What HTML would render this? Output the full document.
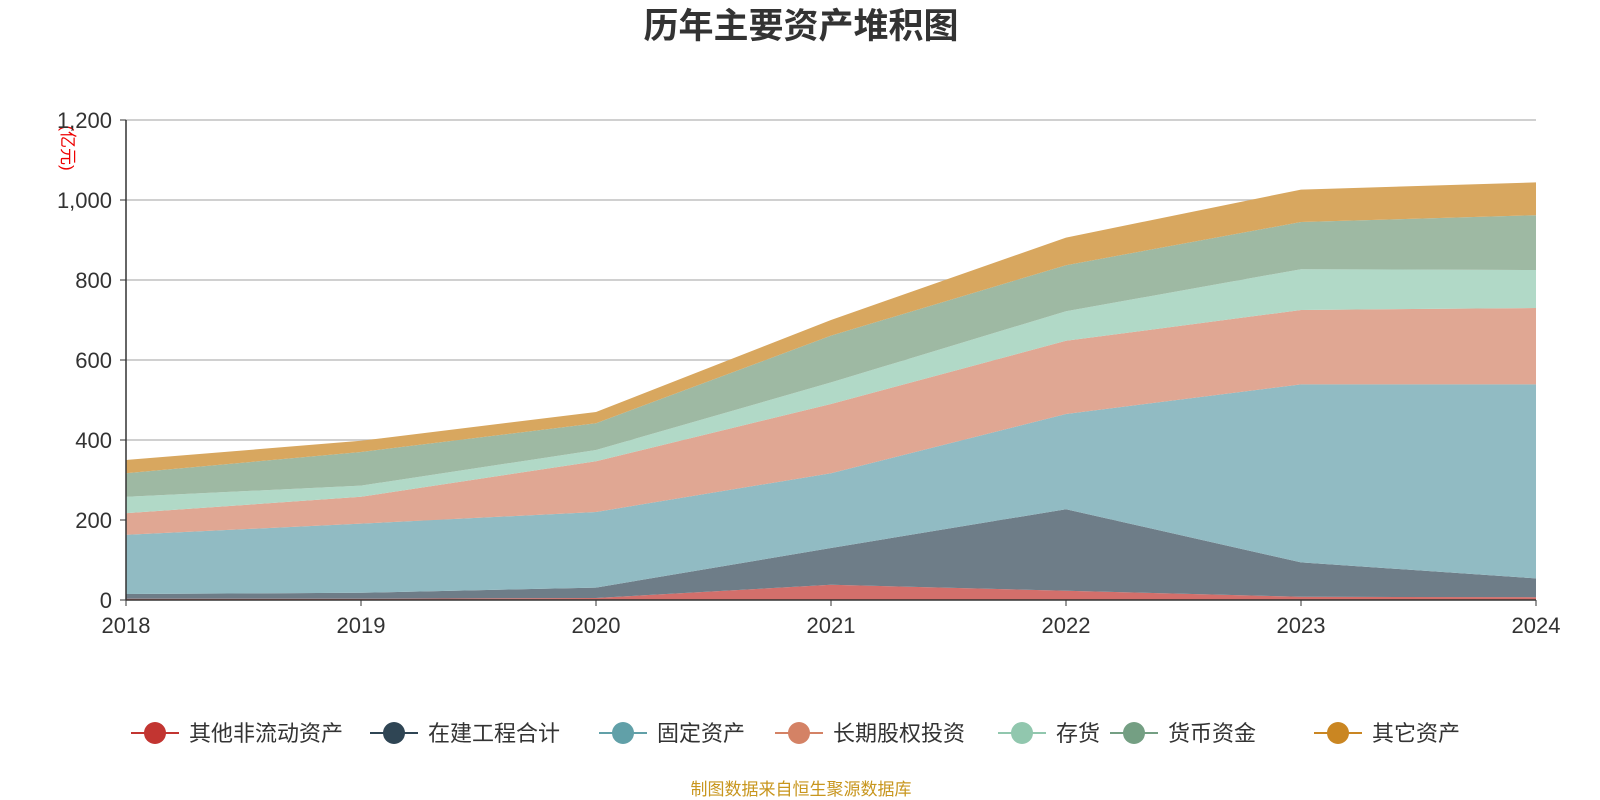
<!DOCTYPE html>
<html><head><meta charset="utf-8"><style>
html,body{margin:0;padding:0;background:#fff;width:1600px;height:800px;overflow:hidden}
svg text{font-family:"Liberation Sans","Noto Sans CJK SC",sans-serif}
</style></head><body>
<svg id="chart" width="1600" height="800">
<text x="801" y="38" text-anchor="middle" font-size="35" font-weight="bold" fill="#333">历年主要资产堆积图</text>
<text transform="translate(62,148) rotate(90)" text-anchor="middle" font-size="17" fill="#e00">(亿元)</text>
<g id="grid"></g><g id="areas"></g><g id="axes"></g><g id="legend"></g>
<text x="801" y="795" text-anchor="middle" font-size="17" fill="#c8961e">制图数据来自恒生聚源数据库</text>
</svg>
<script>
const years=["2018","2019","2020","2021","2022","2023","2024"];
const seriesNames=["其他非流动资产","在建工程合计","固定资产","长期股权投资","存货","货币资金","其它资产"];
const otherNonCurrent=[3,3,5,38,23,8,7];
const construction=[12,15,26,92,204,86,47];
const fixedAssets=[148,173,189,187,238,445,485];
const longTermEquity=[54,67,127,173,183,186,191];
const inventory=[41,28,28,54,74,102,95];
const cash=[59,84,67,117,115,118,137];
const otherAssets=[33,28,28,39,69,81,82];
const yTicks=[0,200,400,600,800,1000,1200];
const yTickLabels=["0","200","400","600","800","1,000","1,200"];
const lineColors=["#c23531","#2f4554","#61a0a8","#d48265","#91c7ae","#749f83","#ca8622"];
const fillColors=["#d36f6b","#6e7d88","#91bbc3","#e0a793","#b1d9c7","#9eb9a3","#d8a75f"];
const all=[otherNonCurrent,construction,fixedAssets,longTermEquity,inventory,cash,otherAssets];
const ns="http://www.w3.org/2000/svg";
const X0=126,X1=1536,Y0=600,Y1=120;
const xs=i=>X0+(X1-X0)*i/(years.length-1);
const ys=v=>Y0-(Y0-Y1)*v/1200;
function mk(t,a,p){const e=document.createElementNS(ns,t);for(const k in a)e.setAttribute(k,a[k]);p.appendChild(e);return e;}
const grid=document.getElementById('grid'),axes=document.getElementById('axes'),areas=document.getElementById('areas'),legend=document.getElementById('legend');
yTicks.forEach((v,i)=>{
 if(v>0){const l=mk('line',{x1:X0,x2:X1,y1:ys(v),y2:ys(v),stroke:'#c0c0c0','stroke-width':1.5},grid);
 
 }
 const t=mk('text',{x:X0-14,y:ys(v)+8,'text-anchor':'end','font-size':22,fill:'#333'},axes);t.textContent=yTickLabels[i];
 
 
 mk('line',{x1:X0-6,x2:X0,y1:ys(v),y2:ys(v),stroke:'#333'},axes);
});
let base=years.map(()=>0);
all.forEach((s,k)=>{
 const top=base.map((b,i)=>b+s[i]);
 let d='M'+top.map((v,i)=>xs(i)+','+ys(v)).join('L');
 for(let i=years.length-1;i>=0;i--)d+='L'+xs(i)+','+ys(base[i]);
 const p=mk('path',{d:d+'Z',fill:fillColors[k],stroke:'none'},areas);
 
 
 base=top;
});
mk('line',{x1:X0,x2:X0,y1:Y1,y2:Y0,stroke:'#333','stroke-width':1.5},axes);
mk('line',{x1:X0,x2:X1,y1:Y0,y2:Y0,stroke:'#333','stroke-width':1.5},axes);
years.forEach((y,i)=>{
 mk('line',{x1:xs(i),x2:xs(i),y1:Y0,y2:Y0+6,stroke:'#333'},axes);
 const t=mk('text',{x:xs(i),y:Y0+33,'text-anchor':'middle','font-size':22,fill:'#333'},axes);t.textContent=y;
 
 
});
const lx=[131,370,599,775,998,1110,1314];
seriesNames.forEach((n,k)=>{
 const g=mk('g',{},legend);
 
 
 mk('line',{x1:lx[k],x2:lx[k]+48,y1:733,y2:733,stroke:lineColors[k],'stroke-width':2},g);
 mk('circle',{cx:lx[k]+24,cy:733,r:11,fill:lineColors[k]},g);
 const t=mk('text',{x:lx[k]+58,y:741,'font-size':22,fill:'#333'},g);t.textContent=n;
});
</script>
</body></html>
